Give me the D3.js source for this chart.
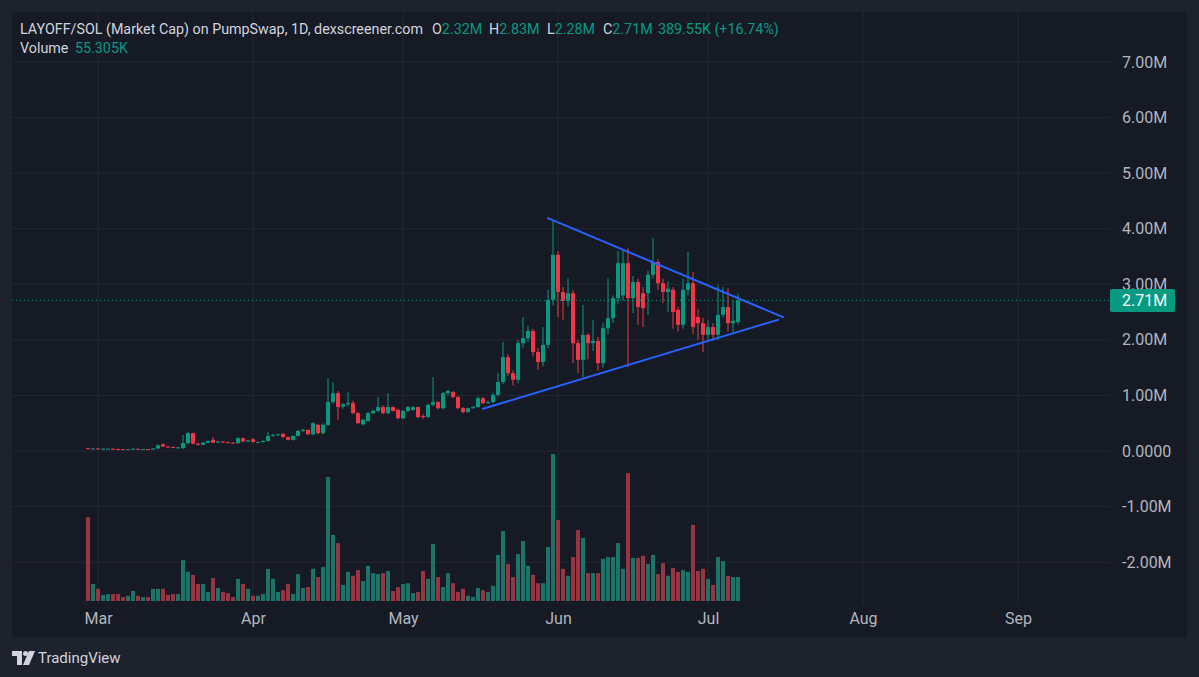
<!DOCTYPE html>
<html>
<head>
<meta charset="utf-8">
<script src="https://cdn.jsdelivr.net/npm/d3@7"></script>
<style>
  body { margin: 0; background: #1e222d; }
  svg { display: block; font-family: Roboto, "Noto Sans", sans-serif; }
</style>
</head>
<body>
<svg id="chart" width="1199" height="677"></svg>
<script>
// daily candles, Feb 27 .. Jul 7 (market cap in millions)
var startDate = "2025-02-27"
var opens  = [0.05,0.04,0.045,0.035,0.04,0.042,0.035,0.032,0.03,0.033,0.04,0.032,0.035,0.03,0.045,0.12,0.08,0.07,0.06,0.05,
              0.14,0.32,0.13,0.11,0.15,0.20,0.15,0.17,0.16,0.15,0.14,0.23,0.17,0.21,0.15,0.16,0.18,0.27,0.29,0.31,
              0.25,0.20,0.27,0.36,0.38,0.30,0.47,0.32,0.47,0.88,1.04,0.80,0.84,0.86,0.68,0.48,0.54,0.68,0.72,0.79,
              0.68,0.79,0.74,0.59,0.72,0.74,0.79,0.63,0.61,0.83,0.88,0.77,1.04,1.06,0.97,0.77,0.70,0.77,0.79,0.95,
              0.86,0.88,1.01,1.24,1.69,1.40,1.28,1.94,2.03,2.16,1.78,1.60,1.91,2.72,3.53,2.86,2.70,2.84,1.94,1.64,
              2.09,1.94,1.98,1.58,2.21,2.39,2.75,2.80,3.38,2.75,3.04,2.84,2.84,3.17,3.40,3.02,2.86,2.90,2.54,2.27,
              2.90,3.02,2.41,2.30,2.09,2.23,2.09,2.45,2.59,2.30,2.32]
var highs  = [0.06,0.05,0.05,0.045,0.045,0.045,0.04,0.035,0.035,0.045,0.042,0.038,0.037,0.05,0.12,0.14,0.09,0.08,0.07,0.29,
              0.34,0.33,0.15,0.16,0.19,0.25,0.18,0.18,0.17,0.16,0.25,0.24,0.20,0.23,0.17,0.19,0.34,0.31,0.31,0.32,
              0.26,0.28,0.38,0.40,0.39,0.52,0.49,0.50,1.31,1.24,1.08,0.86,1.06,0.90,0.70,0.58,0.70,0.75,0.97,0.82,
              1.04,0.80,0.76,0.74,0.81,0.81,0.80,0.66,0.85,1.33,0.90,1.06,1.10,1.08,0.99,0.79,0.78,0.81,0.98,0.97,
              0.91,1.05,1.40,1.96,1.75,1.45,2.00,2.41,2.25,2.20,1.85,2.23,2.90,4.16,3.60,2.95,3.11,2.90,2.00,2.63,
              2.12,2.36,2.05,2.30,3.11,2.80,3.60,3.62,3.65,3.15,3.10,2.95,3.25,3.83,3.45,3.10,3.05,2.95,2.60,3.10,
              3.58,3.22,2.55,2.40,2.35,2.30,2.99,2.95,2.93,2.70,2.83]
var lows   = [0.03,0.035,0.03,0.03,0.035,0.03,0.03,0.025,0.028,0.03,0.03,0.03,0.028,0.028,0.04,0.07,0.06,0.05,0.04,0.04,
              0.12,0.12,0.10,0.10,0.14,0.14,0.14,0.15,0.14,0.13,0.13,0.16,0.16,0.15,0.14,0.15,0.17,0.26,0.27,0.24,
              0.19,0.19,0.26,0.34,0.29,0.28,0.30,0.30,0.45,0.85,0.56,0.76,0.80,0.66,0.48,0.46,0.52,0.66,0.70,0.66,
              0.66,0.71,0.57,0.57,0.70,0.72,0.59,0.58,0.60,0.80,0.75,0.75,1.00,0.95,0.75,0.68,0.69,0.76,0.78,0.84,
              0.85,0.86,0.98,1.20,1.35,1.18,1.22,1.86,1.96,1.70,1.46,1.52,1.85,2.62,2.41,2.36,2.60,1.58,1.40,1.33,
              1.65,1.80,1.45,1.50,2.10,2.30,2.65,2.70,1.51,2.48,2.27,2.23,2.45,3.10,2.90,2.66,2.50,2.20,2.15,2.20,
              2.80,2.10,2.00,1.78,2.00,1.98,2.00,2.40,2.15,2.14,2.28]
var closes = [0.04,0.045,0.035,0.04,0.042,0.035,0.032,0.03,0.033,0.04,0.032,0.035,0.03,0.045,0.10,0.08,0.07,0.06,0.065,0.14,
              0.32,0.13,0.11,0.15,0.18,0.15,0.17,0.16,0.15,0.14,0.23,0.17,0.19,0.16,0.16,0.18,0.27,0.29,0.30,0.25,
              0.20,0.27,0.36,0.38,0.30,0.50,0.32,0.47,0.88,1.04,0.79,0.84,0.86,0.68,0.50,0.56,0.68,0.72,0.79,0.68,
              0.79,0.72,0.59,0.72,0.79,0.79,0.61,0.61,0.83,0.88,0.77,1.04,1.08,0.97,0.77,0.70,0.77,0.79,0.95,0.86,
              0.88,1.01,1.24,1.69,1.40,1.28,1.94,2.03,2.16,1.78,1.60,1.91,2.72,3.53,2.86,2.70,2.84,1.94,1.64,2.09,
              1.94,1.98,1.58,2.21,2.39,2.75,3.38,3.38,2.75,3.04,2.59,2.57,3.17,3.40,3.02,2.86,2.92,2.50,2.27,2.90,
              3.02,2.23,2.30,2.09,2.23,2.09,2.45,2.59,2.30,2.34,2.71]
// volume in thousands
var volumes = [193,39,28,14,16,16,16,9,12,23,12,9,9,28,28,28,14,16,16,94,
               67,60,39,39,21,53,30,21,18,9,51,39,28,12,12,16,74,51,21,25,
               39,16,62,30,32,74,55,78,285,152,133,37,67,58,71,46,81,64,62,64,
               69,23,32,39,41,18,21,69,51,131,55,32,64,41,21,28,12,9,30,25,
               21,35,106,161,85,55,108,138,81,60,41,41,124,338,186,74,58,101,163,145,
               64,64,64,97,101,101,133,74,294,99,99,104,85,106,62,87,58,76,67,71,
               67,175,69,74,51,37,101,92,58,55,55.305]

var monthTicks = ["2025-03-01","2025-04-01","2025-05-01","2025-06-01","2025-07-01","2025-08-01","2025-09-01"]
var priceTicks = [-2,-1,0,1,2,3,4,5,6,7]
var lastPrice = 2.71

// hand drawn triangle (date, value)
var trendUpper = [["2025-05-30", 4.19], ["2025-07-16", 2.41]]
var trendLower = [["2025-05-17", 0.76], ["2025-07-15", 2.36]]

var parse = d3.timeParse("%Y-%m-%d")
var start = parse(startDate)
var dataset = opens.map((o, i) => ({
    date: d3.timeDay.offset(start, i),
    open: o, high: highs[i], low: lows[i], close: closes[i], volume: volumes[i]
}))

var dimensions = {
    width: 1199,
    height: 677,
    pane: { left: 12, top: 12, right: 1187, bottom: 637 },
    plotRight: 1110,
    volBase: 601
}

var up = "#089981", down = "#f23645"
var upVol = "#1c7468", downVol = "#973542"
var textCol = "#b2b5be", gridCol = "#232733"

var svg = d3.select("#chart")

svg.append("rect").attr("width", dimensions.width).attr("height", dimensions.height).attr("fill", "#1e222d")
svg.append("rect")
   .attr("x", dimensions.pane.left).attr("y", dimensions.pane.top)
   .attr("width", dimensions.pane.right - dimensions.pane.left)
   .attr("height", dimensions.pane.bottom - dimensions.pane.top)
   .attr("fill", "#161a25")

var xScale = d3.scaleTime()
               .domain([parse("2025-03-01"), parse("2025-09-01")])
               .range([98, 1018])

var yScale = d3.scaleLinear()
               .domain([-2.7, 7.9])
               .range([dimensions.volBase, dimensions.pane.top])

var volScale = d3.scaleLinear()
                 .domain([0, d3.max(volumes)])
                 .range([0, 147])

// grid
svg.append("g").selectAll("line")
   .data(priceTicks).enter().append("line")
   .attr("x1", dimensions.pane.left).attr("x2", dimensions.plotRight)
   .attr("y1", d => yScale(d)).attr("y2", d => yScale(d))
   .attr("stroke", gridCol).attr("stroke-width", 1)

svg.append("g").selectAll("line")
   .data(monthTicks.map(parse)).enter().append("line")
   .attr("x1", d => xScale(d)).attr("x2", d => xScale(d))
   .attr("y1", dimensions.pane.top).attr("y2", dimensions.volBase + 3)
   .attr("stroke", gridCol).attr("stroke-width", 1)

// volume
var bw = 4
svg.append("g").selectAll("rect")
   .data(dataset).enter().append("rect")
   .attr("x", d => xScale(d.date) - bw / 2)
   .attr("y", d => dimensions.volBase - volScale(d.volume))
   .attr("width", bw)
   .attr("height", d => volScale(d.volume))
   .attr("fill", d => d.close >= d.open ? upVol : downVol)

// candles
var candles = svg.append("g").selectAll("g")
                 .data(dataset).enter().append("g")
candles.append("line")
       .attr("x1", d => xScale(d.date)).attr("x2", d => xScale(d.date))
       .attr("y1", d => yScale(d.high)).attr("y2", d => yScale(d.low))
       .attr("stroke", d => d.close >= d.open ? up : down)
       .attr("stroke-width", 1)
candles.append("rect")
       .attr("x", d => xScale(d.date) - bw / 2)
       .attr("y", d => yScale(Math.max(d.open, d.close)))
       .attr("width", bw)
       .attr("height", d => Math.max(1, Math.abs(yScale(d.open) - yScale(d.close))))
       .attr("fill", d => d.close >= d.open ? up : down)

// triangle
var line = d3.line().x(d => xScale(parse(d[0]))).y(d => yScale(d[1]))
;[trendUpper, trendLower].forEach(t => {
    svg.append("path").attr("d", line(t))
       .attr("fill", "none").attr("stroke", "#2962ff")
       .attr("stroke-width", 2).attr("stroke-linecap", "round")
})

// last price line
svg.append("line")
   .attr("x1", dimensions.pane.left).attr("x2", dimensions.plotRight)
   .attr("y1", yScale(lastPrice)).attr("y2", yScale(lastPrice))
   .attr("stroke", up).attr("stroke-width", 1).attr("stroke-dasharray", "1,3")

// axes
var yAxisGen = d3.axisRight().scale(yScale)
                 .tickValues(priceTicks).tickSize(0).tickPadding(12)
                 .tickFormat(d => d === 0 ? "0.0000" : (d < 0 ? "-" : "") + Math.abs(d).toFixed(2) + "M")
var yAxis = svg.append("g")
               .attr("transform", `translate(${dimensions.plotRight},0)`)
               .call(yAxisGen)
yAxis.select(".domain").remove()
yAxis.selectAll("text").attr("fill", textCol).style("font-size", "16px").style("font-family", "Roboto, sans-serif")

var xAxisGen = d3.axisBottom().scale(xScale)
                 .tickValues(monthTicks.map(parse)).tickSize(0).tickPadding(12)
                 .tickFormat(d3.timeFormat("%b"))
var xAxis = svg.append("g")
               .attr("transform", `translate(0,${dimensions.volBase})`)
               .call(xAxisGen)
xAxis.select(".domain").remove()
xAxis.selectAll("text").attr("fill", textCol).style("font-size", "16px").style("font-family", "Roboto, sans-serif")

// last price tag
var ly = yScale(lastPrice)
svg.append("rect").attr("x", dimensions.plotRight).attr("y", ly - 11.5)
   .attr("width", 65).attr("height", 23).attr("rx", 2).attr("fill", up)
svg.append("text").attr("x", dimensions.plotRight + 12).attr("y", ly)
   .attr("dy", "0.35em").attr("fill", "#ffffff").style("font-size", "16px")
   .text(lastPrice.toFixed(2) + "M")

// legend
var head = svg.append("text").attr("x", 20).attr("y", 34)
              .attr("fill", "#d1d4dc").style("font-size", "14.3px")
head.append("tspan").text("LAYOFF/SOL (Market Cap) on PumpSwap, 1D, dexscreener.com")
var ohlc = [["O", "2.32M", 432], ["H", "2.83M", 489], ["L", "2.28M", 547], ["C", "2.71M", 603]]
ohlc.forEach(p => {
    head.append("tspan").attr("x", p[2]).text(p[0])
    head.append("tspan").attr("fill", up).text(p[1])
})
head.append("tspan").attr("x", 658).attr("fill", up).text("389.55K (+16.74%)")

var vol = svg.append("text").attr("x", 20).attr("y", 53)
             .attr("fill", "#d1d4dc").style("font-size", "14.3px")
vol.append("tspan").text("Volume")
vol.append("tspan").attr("x", 75).attr("fill", up).text("55.305K")

// TradingView mark
var logo = svg.append("g").attr("fill", "#d1d4dc")
logo.append("path").attr("d", "M12,651 H22 V665 H17 V656 H12 Z")
logo.append("circle").attr("cx", 25.5).attr("cy", 653.5).attr("r", 2.5)
logo.append("path").attr("d", "M29,651 H35 L29,665 H23 Z")
svg.append("text").attr("x", 38).attr("y", 663)
   .attr("fill", "#d1d4dc").style("font-size", "15px").text("TradingView")
</script>
</body>
</html>
